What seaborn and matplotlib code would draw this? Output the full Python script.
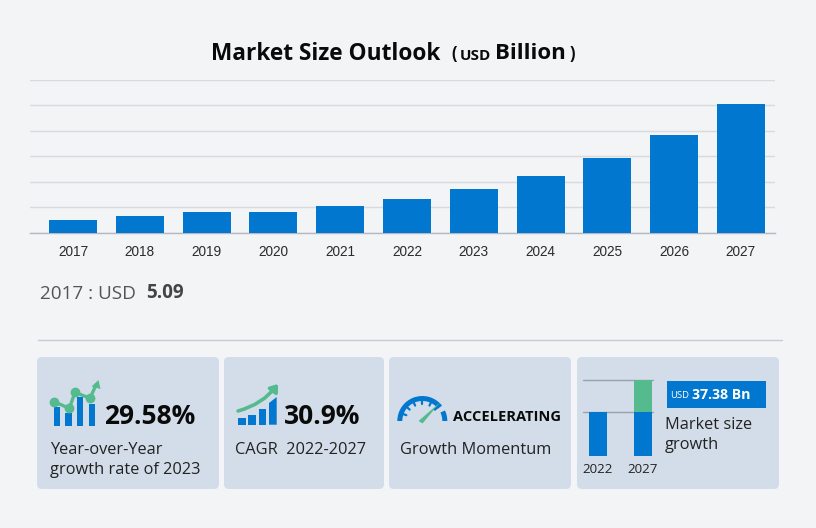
"""
Market size outlook card, rebuilt with seaborn bars and matplotlib patches.
"""

import numpy as np
import matplotlib
matplotlib.use('Agg')
import matplotlib.pyplot as plt
import seaborn as sns
from matplotlib.patches import FancyBboxPatch, Rectangle, Polygon, Wedge, FancyArrowPatch

# ── Data ───────────────────────────────────────────────────────────────────────
years = ['2017', '2018', '2019', '2020', '2021', '2022',
         '2023', '2024', '2025', '2026', '2027']
market_size = [5.09, 6.5, 8.2, 8.0, 10.3, 13.1, 17.0, 22.2, 29.2, 38.2, 50.6]
grid_values = [0, 10, 20, 30, 40, 50, 60]

mini_years = ['2022', '2027']
mini_base = [44, 44]
mini_growth = [0, 32]

BLUE = '#0277cf'
GREEN = '#55bb8f'
CARD = '#d3dde9'
BG = '#f3f4f6'
W, H = 816, 528
BODY_FONT = 'Open Sans'


def px_axes(fig, x0, y0, x1, y1):
    # axes placed by pixel box, y measured from the top of the picture
    return fig.add_axes([x0 / W, 1 - y1 / H, (x1 - x0) / W, (y1 - y0) / H])


sns.set_theme(style='white')
plt.rcParams['font.family'] = ['Open Sans', 'DejaVu Sans']

fig = plt.figure(figsize=(W / 100, H / 100), dpi=100, facecolor=BG)

# overlay in pixel coordinates for text, cards and icons
ov = fig.add_axes([0, 0, 1, 1], zorder=0)
ov.set_xlim(0, W)
ov.set_ylim(H, 0)
ov.axis('off')

# ── Main chart ─────────────────────────────────────────────────────────────────
ax = px_axes(fig, 30, 79.6, 775, 232.6)
ax.set_zorder(1)
ax.patch.set_alpha(0)
sns.barplot(x=years, y=market_size, color=BLUE, saturation=1, width=0.72, linewidth=0, ax=ax, zorder=3)
ax.set_xlim(-0.644, 10.51)
ax.set_ylim(0, 60)
ax.set_yticks(grid_values)
ax.set_yticklabels([])
ax.grid(axis='y', color='#d8dade', linewidth=1)
ax.set_axisbelow(True)
ax.tick_params(axis='both', length=0)
ax.tick_params(axis='x', pad=9)
for label in ax.get_xticklabels():
    label.set_fontfamily('Liberation Sans')
    label.set_fontsize(9.8)
    label.set_color('#2b2b2b')
for side in ['top', 'left', 'right']:
    ax.spines[side].set_visible(False)
ax.spines['bottom'].set_color('#b4b8c0')
ax.spines['bottom'].set_linewidth(1)

# ── Title ──────────────────────────────────────────────────────────────────────
ov.text(211, 53.5, 'Market Size Outlook', fontsize=16.3, fontweight='bold', color='#0a0a0a', va='center')
ov.text(451, 54, '(', fontsize=12, fontweight='bold', color='#0a0a0a', va='center')
ov.text(460, 56, 'USD', fontsize=11, fontweight='bold', color='#0a0a0a', va='center')
ov.text(495, 53.5, 'Billion', fontsize=16, fontweight='bold', color='#0a0a0a', va='center')
ov.text(570, 54, ')', fontsize=12, fontweight='bold', color='#0a0a0a', va='center')

# ── Hover readout ──────────────────────────────────────────────────────────────
ov.text(40, 294, '2017 : USD', fontsize=13.6, color='#555555', va='center')
ov.text(146, 293, '5.09', fontsize=13.6, fontweight='bold', color='#444444', va='center')
ov.plot([38, 782], [339.8, 339.8], color='#c5cbdc', lw=1)

# ── Cards ──────────────────────────────────────────────────────────────────────
for x0, x1 in [(37, 219), (224, 384), (389, 571), (577, 779)]:
    ov.add_patch(FancyBboxPatch((x0 + 5, 362), x1 - x0 - 10, 122,
                                boxstyle='round,pad=5,rounding_size=5',
                                fc=CARD, ec='none'))

# card 1 icon
for x0, top in [(54, 407.3), (65.3, 412.7), (76.7, 397.3), (88.7, 404)]:
    ov.add_patch(Rectangle((x0, top), 6.4, 426 - top, fc=BLUE, ec='none'))
line_x = [54, 69.3, 75, 90, 96]
line_y = [401.7, 408.3, 392.3, 398.3, 385]
ov.plot(line_x, line_y, color=GREEN, lw=2.4)
ov.scatter(line_x[:4], line_y[:4], s=50, color=GREEN, zorder=3, linewidths=0)
ov.add_patch(Polygon([[98.5, 380], [91.5, 386.5], [100.5, 389]], fc=GREEN, ec='none'))

ov.text(104.5, 417, '29.58%', fontsize=19, fontweight='bold', color='#0a0a0a', va='center')
ov.text(50, 450, 'Year-over-Year', fontsize=11.8, color='#222222', va='center')
ov.text(50, 470, 'growth rate of 2023', fontsize=11.8, color='#222222', va='center')

# card 2 icon
for x0, top in [(238, 417.7), (248.3, 415), (258.7, 409.3)]:
    ov.add_patch(Rectangle((x0, top), 7.5, 424.7 - top, fc=BLUE, ec='none'))
ov.add_patch(Polygon([[269, 424.7], [276.7, 424.7], [276.7, 397], [269, 403]], fc=BLUE, ec='none'))
ov.add_patch(FancyArrowPatch((238, 411), (278, 384), connectionstyle='arc3,rad=0.17',
                             arrowstyle='-|>,head_length=4,head_width=3',
                             color=GREEN, lw=2.6, shrinkA=0, shrinkB=0))

ov.text(283.5, 417, '30.9%', fontsize=19, fontweight='bold', color='#0a0a0a', va='center')
ov.text(235, 450, 'CAGR  2022-2027', fontsize=11.8, color='#222222', va='center')

# card 3 gauge, wedge angles flipped because the overlay y axis points down
cx, cy, r = 422.3, 421, 25
ov.add_patch(Wedge((cx, cy), r, 180, 322, width=5, fc=BLUE, ec='none'))
ov.add_patch(Wedge((cx, cy), r, 335, 360, width=5, fc=BLUE, ec='none'))
for ang in np.radians([200, 222, 245, 270, 295, 318]):
    ov.plot([cx + (r - 8) * np.cos(ang), cx + (r - 4) * np.cos(ang)],
            [cy + (r - 8) * np.sin(ang), cy + (r - 4) * np.sin(ang)],
            color=BLUE, lw=1.6)
ov.add_patch(Polygon([[418.5, 421], [422.5, 423.5], [440.5, 402]], fc=GREEN, ec='none'))

ov.text(453, 417, 'ACCELERATING', fontsize=10.5, fontweight='bold', color='#0a0a0a', va='center')
ov.text(400, 450, 'Growth Momentum', fontsize=11.8, color='#222222', va='center')

# card 4 mini chart
mini = px_axes(fig, 583, 380, 653, 456.3)
mini.set_zorder(1)
mini.patch.set_alpha(0)
sns.barplot(x=mini_years, y=mini_base, color=BLUE, saturation=1, width=0.38, linewidth=0, ax=mini, zorder=3)
sns.barplot(x=mini_years, y=mini_growth, bottom=mini_base, color=GREEN, saturation=1,
            width=0.38, linewidth=0, ax=mini, zorder=3)
mini.set_xlim(-0.333, 1.222)
mini.set_ylim(0, 76)
mini.set_yticks([44, 76])
mini.set_yticklabels([])
mini.grid(axis='y', color='#98a3b0', linewidth=1, clip_on=False)
mini.set_axisbelow(True)
mini.tick_params(axis='both', length=0)
mini.tick_params(axis='x', pad=5)
for label in mini.get_xticklabels():
    label.set_fontsize(9.6)
    label.set_color('#222222')
for side in mini.spines:
    mini.spines[side].set_visible(False)

ov.add_patch(Rectangle((667, 381), 99, 26.7, fc=BLUE, ec='none'))
ov.text(670, 396, 'USD', fontsize=6.8, color='white', va='center')
ov.text(692, 395, '37.38 Bn', fontsize=10.2, fontweight='bold', color='white', va='center')
ov.text(665, 425, 'Market size', fontsize=11.8, color='#222222', va='center')
ov.text(665, 445, 'growth', fontsize=11.8, color='#222222', va='center')

fig.savefig('out.png', dpi=100, facecolor=BG)
